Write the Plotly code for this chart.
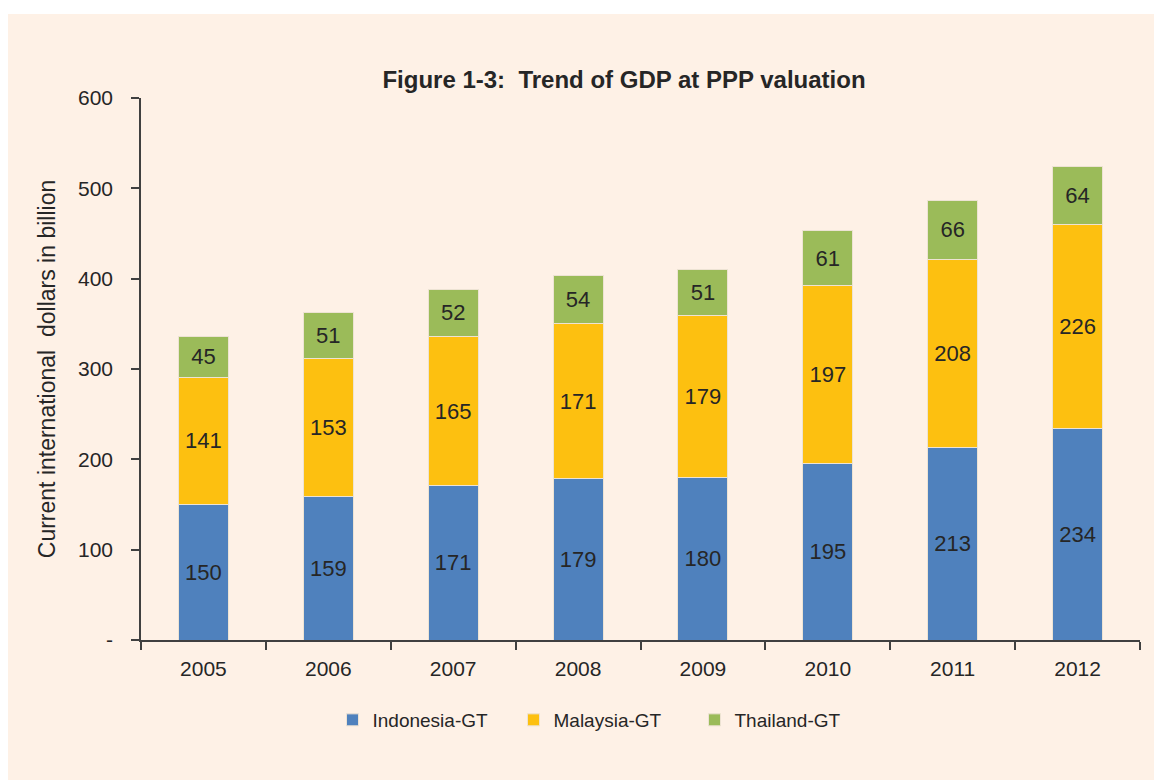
import plotly.graph_objects as go

years = ["2005", "2006", "2007", "2008", "2009", "2010", "2011", "2012"]
indonesia = [150, 159, 171, 179, 180, 195, 213, 234]
malaysia = [141, 153, 165, 171, 179, 197, 208, 226]
thailand = [45, 51, 52, 54, 51, 61, 66, 64]
ytick_vals = [0, 100, 200, 300, 400, 500, 600]
ytick_text = ["-", "100", "200", "300", "400", "500", "600"]

FONT = "Liberation Sans Narrow, Arial Narrow, Liberation Sans, Arial, sans-serif"
TXT = "#262626"
BG = "#FEF1E6"

fig = go.Figure()
for name, vals, col in [("Indonesia-GT", indonesia, "#4F81BD"),
                        ("Malaysia-GT", malaysia, "#FDC010"),
                        ("Thailand-GT", thailand, "#9BBB59")]:
    fig.add_trace(go.Bar(
        x=years, y=vals, name=name,
        marker=dict(color=col, line=dict(color="#EDE3D3", width=1)),
        text=[str(v) for v in vals], textposition="inside",
        insidetextanchor="middle", textangle=0,
        textfont=dict(family=FONT, size=22, color=TXT),
        constraintext="none",
    ))

OFF = 8  # page body margin
W, H = 1162 - OFF, 780 - OFF
# page-pixel plot edges
PL, PR, PT, PB = 141, 1140, 98, 640
L, T = PL - OFF, PT - OFF
R, B = W - (PR - OFF), H - (PB - OFF)
pw, ph = W - L - R, H - T - B

def px_x(p):
    return (p - PL) / pw

def px_y(p):
    return (PB - p) / ph

fig.update_layout(
    width=W, height=H,
    barmode="stack", bargap=0.6,
    paper_bgcolor=BG, plot_bgcolor="rgba(0,0,0,0)",
    margin=dict(l=L, r=R, t=T, b=B),
    font=dict(family=FONT, color=TXT, size=20),
    title=dict(text="<b>Figure 1-3:  Trend of GDP at PPP valuation</b>",
               x=px_x(624), xref="paper", xanchor="center",
               y=1 - (80 - OFF) / H, yanchor="middle",
               font=dict(family=FONT, size=24, color=TXT)),
    showlegend=True,
    legend=dict(orientation="h", x=px_x(604), xanchor="center", y=px_y(720), yanchor="middle",
                font=dict(family=FONT, size=19, color=TXT),
                itemwidth=30, traceorder="normal", bgcolor="rgba(0,0,0,0)",
                entrywidth=136, entrywidthmode="pixels"),
    shapes=[dict(type="rect", xref="paper", yref="paper",
                 x0=px_x(0), x1=px_x(1180), y0=px_y(800), y1=px_y(0),
                 fillcolor="white", line=dict(width=0), layer="below"),
            dict(type="rect", xref="paper", yref="paper",
                 x0=px_x(6), x1=px_x(1180), y0=px_y(800), y1=px_y(14),
                 fillcolor=BG, line=dict(width=0), layer="below")],
)
fig.update_xaxes(
    showline=True, linecolor="#404040", linewidth=1.5,
    ticks="outside", ticklen=8, tickcolor="#404040", tickwidth=1.5,
    tickson="boundaries", showgrid=False, ticklabelstandoff=9,
    tickfont=dict(family=FONT, size=21, color=TXT),
)
fig.update_yaxes(
    range=[0, 600], tickvals=ytick_vals, ticktext=ytick_text,
    showline=True, linecolor="#404040", linewidth=1.5,
    ticks="outside", ticklen=8, tickcolor="#404040", tickwidth=1.5,
    showgrid=False, zeroline=False, ticklabelstandoff=14,
    tickfont=dict(family=FONT, size=21, color=TXT),
    title=dict(text="Current international  dollars in billion",
               font=dict(family=FONT, size=23, color=TXT), standoff=16),
)
fig.write_html("out.html")
